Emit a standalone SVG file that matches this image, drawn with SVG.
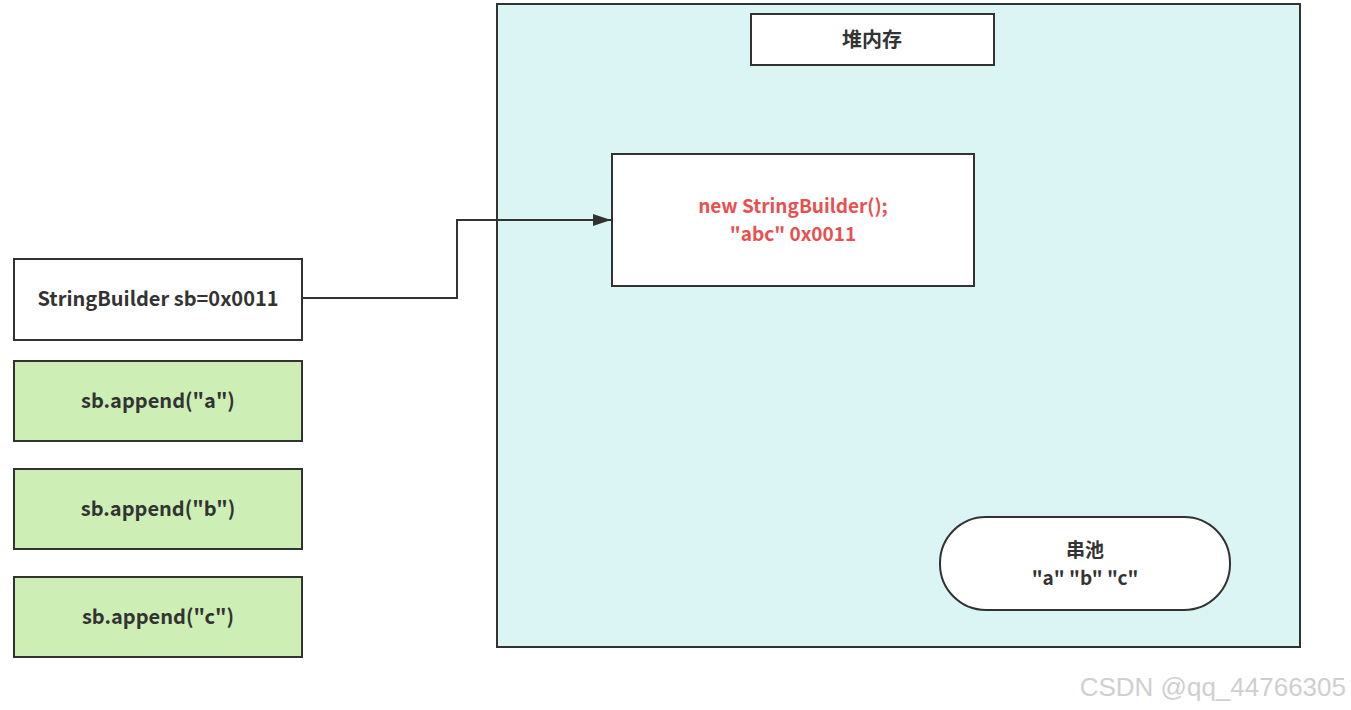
<svg xmlns="http://www.w3.org/2000/svg" width="1351" height="710" viewBox="0 0 1351 710">
<defs>
<style>
.b{stroke:#323232;stroke-width:2}
.t{font-family:"Noto Sans CJK SC","Noto Sans",sans-serif;font-weight:bold;font-size:20px;fill:#333;text-anchor:middle}
.s{font-size:19px}
.r{fill:#e85050}
</style>
<marker id="ah" viewBox="0 0 18 12" refX="18" refY="6" markerWidth="18" markerHeight="12" markerUnits="userSpaceOnUse" orient="auto"><path d="M0,0 L18,6 L0,12 Z" fill="#323232"/></marker>
</defs>
<rect width="1351" height="710" fill="#fff"/>
<g id="heap"><rect class="b" x="497" y="4" width="803" height="643" fill="#dbf4f4"/></g>
<g id="heap-title"><rect class="b" x="751" y="14" width="243" height="51" fill="#fff"/><text class="t" x="872" y="47">堆内存</text></g>
<g id="sb-obj"><rect class="b" x="612" y="154" width="362" height="132" fill="#fff"/><text class="t s r" x="793" y="213">new StringBuilder();</text><text class="t s r" x="793" y="241">"abc" 0x0011</text></g>
<g id="pool"><rect class="b" x="940" y="517" width="290" height="93" rx="46" ry="46" fill="#fff"/><text class="t s" x="1085" y="557">串池</text><text class="t s" x="1085" y="585">"a" "b" "c"</text></g>
<g id="sb-var"><rect class="b" x="14" y="259" width="288" height="81" fill="#fff"/><text class="t" x="158" y="306">StringBuilder sb=0x0011</text></g>
<g id="append-a"><rect class="b" x="14" y="361" width="288" height="80" fill="#cdeeb5"/><text class="t" x="158" y="408">sb.append("a")</text></g>
<g id="append-b"><rect class="b" x="14" y="469" width="288" height="80" fill="#cdeeb5"/><text class="t" x="158" y="516">sb.append("b")</text></g>
<g id="append-c"><rect class="b" x="14" y="577" width="288" height="80" fill="#cdeeb5"/><text class="t" x="158" y="624">sb.append("c")</text></g>
<g id="connectors"><path class="b" d="M302,298 H457 V220 H611" fill="none" marker-end="url(#ah)"/></g>
<text x="1346" y="696" font-family="Liberation Sans,sans-serif" font-size="26" fill="#cfcfcf" text-anchor="end">CSDN @qq_44766305</text>
</svg>
